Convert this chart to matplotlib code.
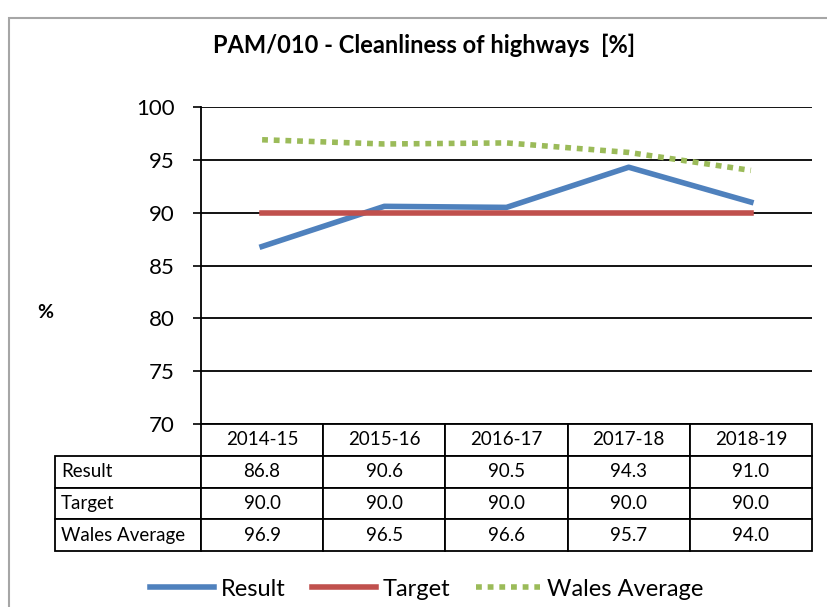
import matplotlib
matplotlib.use("Agg")
import matplotlib.pyplot as plt
from matplotlib.patches import Rectangle

plt.rcParams['font.family'] = ['Lato', 'DejaVu Sans']

years = ['2014-15', '2015-16', '2016-17', '2017-18', '2018-19']
result = [86.8, 90.6, 90.5, 94.3, 91.0]
target = [90.0, 90.0, 90.0, 90.0, 90.0]
wales_avg = [96.9, 96.5, 96.6, 95.7, 94.0]
series_names = ['Result', 'Target', 'Wales Average']

fig = plt.figure(figsize=(8.27, 6.07), dpi=100)

# grey outer frame (chart is cropped on right and bottom)
fig.add_artist(Rectangle((9 / 827, -0.1), 1.2, 1.1 - 18 / 607, transform=fig.transFigure,
                         fill=False, edgecolor='#a6a6a6', linewidth=1.5))

ax = fig.add_axes([201 / 827, 1 - 424 / 607, 611 / 827, 317 / 607])

x = list(range(len(years)))
ax.plot(x, result, color='#4F81BD', linewidth=4, label=series_names[0], zorder=3)
ax.plot(x, target, color='#C0504D', linewidth=4, label=series_names[1], zorder=4)
ax.plot(x, wales_avg, color='#9BBB59', linewidth=4, dashes=(1.05, 1.05),
        label=series_names[2], zorder=5)

ax.set_xlim(-0.5, len(years) - 0.5)
ax.set_ylim(70, 100)
ax.set_yticks(range(70, 101, 5))
ax.tick_params(axis='y', direction='out', length=6, width=1.2, pad=13, labelsize=16)
ax.set_xticks([])
ax.yaxis.grid(True, color='black', linewidth=1.3)
ax.set_axisbelow(True)
for s in ['top', 'right', 'bottom']:
    ax.spines[s].set_visible(False)
ax.spines['left'].set_linewidth(1.3)

# data table under the plot: header row + one row per series
rows = [[''] + years]
for name, vals in zip(series_names, [result, target, wales_avg]):
    rows.append([name] + ['%.1f' % v for v in vals])

tab = ax.table(cellText=rows, cellLoc='center',
               bbox=[-146 / 611, -127 / 317, 757 / 611, 127 / 317])
tab.auto_set_font_size(False)
tab.set_fontsize(13.5)
for (r, c), cell in tab.get_celld().items():
    cell.set_linewidth(1.3)
    cell.set_edgecolor('black')
    if c == 0:
        cell.set_width(146 / 611)
        cell.PAD = 0.04
        cell.get_text().set_ha('left')
        cell._loc = 'left'
        if r == 0:
            cell.visible_edges = ''
    else:
        cell.set_width(122.2 / 611)
    cell.set_height(0.25)

fig.text(424 / 827, 1 - 45 / 607, 'PAM/010 - Cleanliness of highways  [%]',
         ha='center', va='center', fontsize=17, fontweight='bold')
fig.text(45 / 827, 1 - 312 / 607, '%', ha='center', va='center',
         fontsize=14, fontweight='bold')

fig.legend(loc='center', bbox_to_anchor=(427 / 827, 1 - 589 / 607), ncol=3,
           frameon=False, fontsize=17, handlelength=2.7, handletextpad=0.3,
           columnspacing=1.1)

fig.savefig('out.png', dpi=100)
